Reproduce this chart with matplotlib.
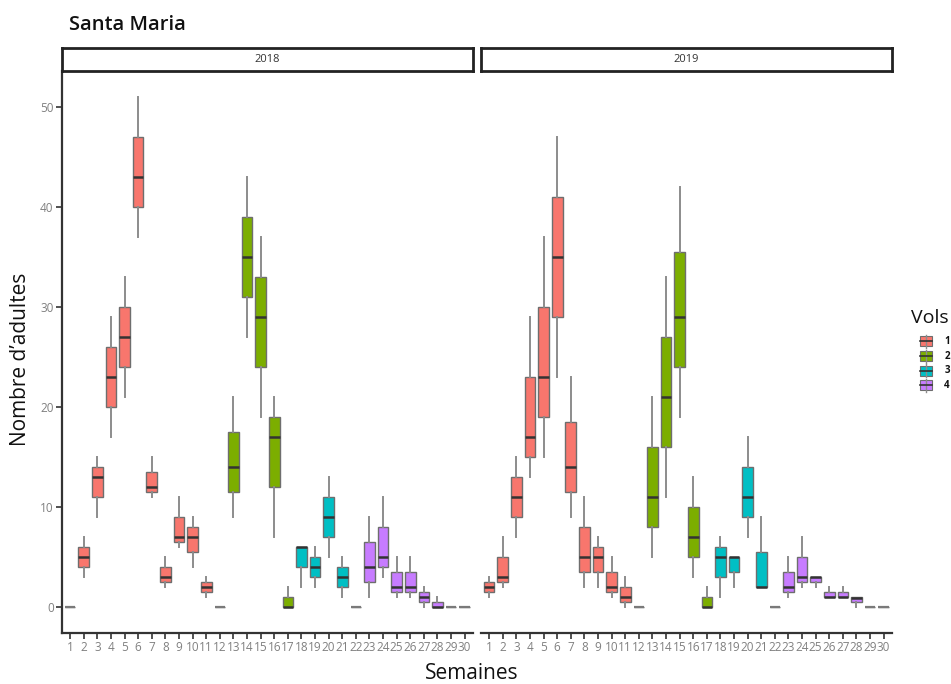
import matplotlib
matplotlib.use("Agg")
import matplotlib.pyplot as plt
from matplotlib.patches import Rectangle
from matplotlib.lines import Line2D
import numpy as np

######### Data #########
weeks = list(range(1, 31))
years = ["2018", "2019"]

# five-number summaries per week (whisker low, q1, median, q3, whisker high)
low_2018 = [0, 3, 9, 17, 21, 37, 11, 2, 6, 4, 1, 0, 9, 27, 19, 7, 0, 2, 2, 5, 1, 0, 1, 3, 1, 1, 0, 0, 0, 0]
q1_2018 = [0, 4, 11, 20, 24, 40, 11.5, 2.5, 6.5, 5.5, 1.5, 0, 11.5, 31, 24, 12, 0, 4, 3, 7, 2, 0, 2.5, 4, 1.5, 1.5, 0.5, 0, 0, 0]
med_2018 = [0, 5, 13, 23, 27, 43, 12, 3, 7, 7, 2, 0, 14, 35, 29, 17, 0, 6, 4, 9, 3, 0, 4, 5, 2, 2, 1, 0, 0, 0]
q3_2018 = [0, 6, 14, 26, 30, 47, 13.5, 4, 9, 8, 2.5, 0, 17.5, 39, 33, 19, 1, 6, 5, 11, 4, 0, 6.5, 8, 3.5, 3.5, 1.5, 0.5, 0, 0]
high_2018 = [0, 7, 15, 29, 33, 51, 15, 5, 11, 9, 3, 0, 21, 43, 37, 21, 2, 6, 6, 13, 5, 0, 9, 11, 5, 5, 2, 1, 0, 0]

low_2019 = [1, 2, 7, 13, 15, 23, 9, 2, 2, 1, 0, 0, 5, 11, 19, 3, 0, 1, 2, 7, 2, 0, 1, 2, 2, 1, 1, 0, 0, 0]
q1_2019 = [1.5, 2.5, 9, 15, 19, 29, 11.5, 3.5, 3.5, 1.5, 0.5, 0, 8, 16, 24, 5, 0, 3, 3.5, 9, 2, 0, 1.5, 2.5, 2.5, 1, 1, 0.5, 0, 0]
med_2019 = [2, 3, 11, 17, 23, 35, 14, 5, 5, 2, 1, 0, 11, 21, 29, 7, 0, 5, 5, 11, 2, 0, 2, 3, 3, 1, 1, 0.9, 0, 0]
q3_2019 = [2.5, 5, 13, 23, 30, 41, 18.5, 8, 6, 3.5, 2, 0, 16, 27, 35.5, 10, 1, 6, 5, 14, 5.5, 0, 3.5, 5, 3, 1.5, 1.5, 1, 0, 0]
high_2019 = [3, 7, 15, 29, 37, 47, 23, 11, 7, 5, 3, 0, 21, 33, 42, 13, 2, 7, 5, 17, 9, 0, 5, 7, 3, 2, 2, 1, 0, 0]

# flight (vol) of each week
vols = [1] * 12 + [2] * 5 + [3] * 5 + [4] * 8
vol_labels = ["1", "2", "3", "4"]
vol_colors = {1: "#F8766D", 2: "#7CAE00", 3: "#00BFC4", 4: "#C77CFF"}
#########################

stats = {
    "2018": (low_2018, q1_2018, med_2018, q3_2018, high_2018),
    "2019": (low_2019, q1_2019, med_2019, q3_2019, high_2019),
}

plt.rcParams["font.family"] = ["Open Sans", "DejaVu Sans"]

fig = plt.figure(figsize=(9.51, 6.84), dpi=100)
fig.patch.set_facecolor("white")

panel_left = [0.0652, 0.5058]
panel_w = 0.432
panel_bottom = 0.0746
panel_h = 0.8216
strip_h = 0.034

edge_grey = "#6E6E6E"

for i, year in enumerate(years):
    ax = fig.add_axes([panel_left[i], panel_bottom, panel_w, panel_h])
    lo, q1, med, q3, hi = stats[year]
    bxp_stats = []
    for k in range(len(weeks)):
        bxp_stats.append({"whislo": lo[k], "q1": q1[k], "med": med[k],
                          "q3": q3[k], "whishi": hi[k], "fliers": []})
    res = ax.bxp(bxp_stats, positions=weeks, widths=0.78, patch_artist=True,
                 showcaps=False, showfliers=False,
                 boxprops=dict(edgecolor=edge_grey, linewidth=1.0),
                 whiskerprops=dict(color="#8C8C8C", linewidth=1.4),
                 medianprops=dict(color="#333333", linewidth=1.8))
    for k, box in enumerate(res["boxes"]):
        if hi[k] == 0:
            # weeks with no catch collapse to a flat grey dash
            box.set_facecolor("none")
            res["medians"][k].set_color("#7A7A7A")
            res["medians"][k].set_linewidth(1.6)
        else:
            box.set_facecolor(vol_colors[vols[k]])

    ax.set_xlim(0.4, 30.6)
    ax.set_ylim(-2.55, 53.55)
    ax.set_xticks(weeks)
    ax.set_xticklabels([str(w) for w in weeks])
    ax.tick_params(axis="x", length=4, width=1.2, color="#333333",
                   labelsize=8.5, labelcolor="#808080", pad=2)
    for s in ["top", "right"]:
        ax.spines[s].set_visible(False)
    ax.spines["bottom"].set_linewidth(1.6)
    ax.spines["bottom"].set_color("#333333")
    if i == 0:
        ax.set_yticks([0, 10, 20, 30, 40, 50])
        ax.tick_params(axis="y", length=4, width=1.2, color="#333333",
                       labelsize=8.5, labelcolor="#808080", pad=2)
        ax.spines["left"].set_linewidth(1.6)
        ax.spines["left"].set_color("#333333")
    else:
        ax.spines["left"].set_visible(False)
        ax.set_yticks([])

    # facet strip
    sax = fig.add_axes([panel_left[i], panel_bottom + panel_h, panel_w, strip_h])
    sax.set_xticks([])
    sax.set_yticks([])
    for s in sax.spines.values():
        s.set_linewidth(2.0)
        s.set_color("#222222")
    sax.text(0.5, 0.5, year, ha="center", va="center", fontsize=8,
             color="#333333", transform=sax.transAxes)

fig.text(0.073, 0.963, "Santa Maria", fontsize=14.5, fontweight="semibold",
         ha="left", va="center", color="#111111")
fig.text(0.022, 0.475, "Nombre d\u2019adultes", fontsize=15, rotation=90,
         ha="center", va="center", color="#111111")
fig.text(0.496, 0.016, "Semaines", fontsize=15, ha="center", va="center",
         color="#111111")

# legend
fig.text(0.958, 0.535, "Vols", fontsize=14, ha="left", va="center",
         color="#111111")
key_x = 0.9675
key_w = 0.0125
key_h = 0.0145
for j, lab in enumerate(vol_labels):
    yc = 0.501 - j * 0.0215
    fig.add_artist(Line2D([key_x + key_w / 2] * 2, [yc - 0.0095, yc + 0.0095],
                          transform=fig.transFigure, color="#8C8C8C", lw=1))
    fig.add_artist(Rectangle((key_x, yc - key_h / 2), key_w, key_h,
                             transform=fig.transFigure,
                             facecolor=vol_colors[j + 1], edgecolor=edge_grey,
                             lw=0.8))
    fig.add_artist(Line2D([key_x, key_x + key_w], [yc, yc],
                          transform=fig.transFigure, color="#333333", lw=1.2))
    fig.text(0.993, yc, lab, fontsize=7, fontweight="bold", ha="left",
             va="center", color="#111111")

fig.savefig("out.png", dpi=100)
